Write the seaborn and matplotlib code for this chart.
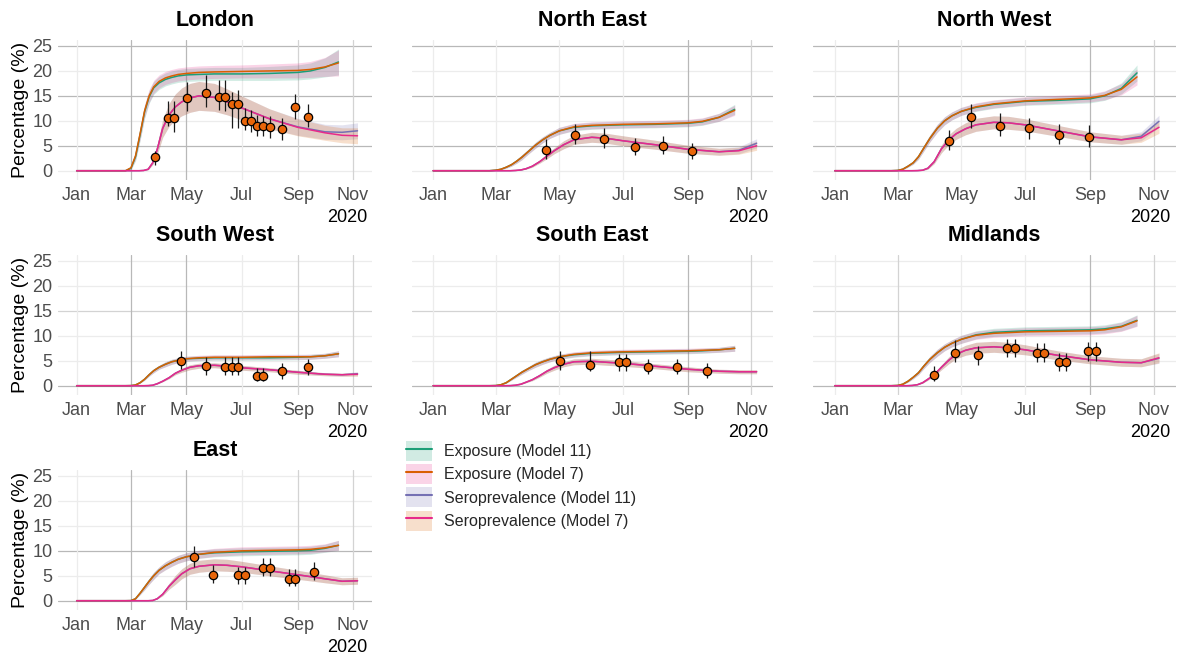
import matplotlib
matplotlib.use("Agg")
import matplotlib.pyplot as plt
from matplotlib.patches import Patch
from matplotlib.lines import Line2D
import pandas as pd
import seaborn as sns

# ---------------------------------------------------------------------------
# Data
# ---------------------------------------------------------------------------
REGIONS = ["London", "North East", "North West", "South West",
           "South East", "Midlands", "East"]

# Model curve dates (exposure curves stop mid-October, seroprevalence early November)
EXP_DATES = ["01-01", "02-24", "03-01", "03-06", "03-11", "03-16", "03-21",
             "03-26", "04-01", "04-08", "04-15", "04-22", "05-01", "05-15",
             "06-01", "07-01", "08-01", "09-01", "09-15", "10-01", "10-16"]
SERO_DATES = ["01-01", "03-10", "03-15", "03-20", "03-25", "03-30", "04-05",
              "04-12", "04-19", "04-26", "05-05", "05-15", "06-01", "06-15",
              "07-01", "08-01", "09-01", "10-01", "10-20", "11-06"]

# Cumulative exposure (%), Model 11 and Model 7
EXP_M11 = {
    "London":     [0, 0, 0.5, 2.8, 7.2, 11.8, 14.8, 16.6, 17.6, 18.3, 18.7, 19.0, 19.2, 19.3, 19.4, 19.4, 19.5, 19.7, 20.0, 20.7, 21.8],
    "North East": [0, 0, 0.1, 0.3, 0.7, 1.2, 1.9, 2.7, 3.8, 5.1, 6.2, 7.1, 8.0, 8.7, 9.0, 9.2, 9.3, 9.5, 9.8, 10.7, 12.3],
    "North West": [0, 0, 0.05, 0.3, 0.9, 1.6, 2.8, 4.5, 6.5, 8.5, 10.0, 11.0, 11.9, 12.7, 13.3, 13.9, 14.1, 14.4, 15.0, 16.5, 19.6],
    "South West": [0, 0, 0.02, 0.15, 0.6, 1.3, 2.2, 3.0, 3.7, 4.3, 4.8, 5.1, 5.4, 5.5, 5.6, 5.6, 5.6, 5.7, 5.8, 6.0, 6.4],
    "South East": [0, 0, 0.03, 0.2, 0.6, 1.3, 2.0, 2.7, 3.4, 4.2, 4.8, 5.3, 5.8, 6.2, 6.5, 6.7, 6.8, 6.9, 7.0, 7.2, 7.5],
    "Midlands":   [0, 0, 0.05, 0.3, 0.9, 1.7, 2.6, 3.9, 5.3, 6.6, 7.7, 8.5, 9.3, 10.2, 10.7, 11.0, 11.1, 11.2, 11.4, 11.9, 13.1],
    "East":       [0, 0, 0.02, 0.4, 1.5, 2.7, 3.9, 5.0, 6.1, 7.0, 7.7, 8.3, 8.8, 9.3, 9.6, 9.8, 9.9, 10.0, 10.1, 10.5, 11.1],
}
EXP_M7 = {
    "London":     [0, 0, 0.6, 3.0, 7.4, 12.0, 15.0, 16.8, 17.9, 18.6, 19.0, 19.3, 19.5, 19.7, 19.8, 19.9, 20.0, 20.1, 20.3, 20.8, 21.6],
    "North East": [0, 0, 0.1, 0.3, 0.7, 1.2, 1.9, 2.7, 3.8, 5.1, 6.2, 7.1, 8.0, 8.8, 9.1, 9.3, 9.4, 9.6, 9.9, 10.7, 12.1],
    "North West": [0, 0, 0.05, 0.3, 0.9, 1.6, 2.8, 4.5, 6.5, 8.5, 10.0, 11.0, 11.9, 12.8, 13.4, 14.0, 14.3, 14.6, 15.1, 16.3, 18.8],
    "South West": [0, 0, 0.02, 0.15, 0.6, 1.3, 2.2, 3.0, 3.7, 4.3, 4.8, 5.1, 5.4, 5.6, 5.7, 5.7, 5.8, 5.8, 5.8, 6.0, 6.4],
    "South East": [0, 0, 0.03, 0.2, 0.6, 1.3, 2.0, 2.7, 3.4, 4.2, 4.8, 5.3, 5.8, 6.3, 6.6, 6.8, 6.9, 7.0, 7.1, 7.2, 7.5],
    "Midlands":   [0, 0, 0.05, 0.3, 0.9, 1.7, 2.6, 3.9, 5.3, 6.6, 7.7, 8.5, 9.3, 10.1, 10.5, 10.8, 10.9, 11.0, 11.2, 11.8, 13.0],
    "East":       [0, 0, 0.02, 0.4, 1.5, 2.7, 3.9, 5.0, 6.1, 7.0, 7.7, 8.3, 8.8, 9.3, 9.7, 10.0, 10.1, 10.2, 10.3, 10.6, 11.1],
}
# Half-width of the exposure credible band
EXP_HW = {
    "London":     [0, 0, 0.3, 0.8, 1.2, 1.3, 1.3, 1.3, 1.3, 1.3, 1.3, 1.3, 1.3, 1.3, 1.3, 1.3, 1.4, 1.5, 1.6, 1.9, 2.6],
    "North East": [0, 0, 0.05, 0.1, 0.2, 0.3, 0.4, 0.5, 0.5, 0.6, 0.6, 0.6, 0.7, 0.7, 0.7, 0.7, 0.7, 0.7, 0.7, 0.8, 1.0],
    "North West": [0, 0, 0.05, 0.1, 0.2, 0.3, 0.5, 0.6, 0.7, 0.8, 0.8, 0.8, 0.8, 0.8, 0.8, 0.8, 0.8, 0.8, 0.9, 1.1, 1.6],
    "South West": [0, 0, 0, 0.05, 0.1, 0.2, 0.3, 0.4, 0.4, 0.5, 0.5, 0.5, 0.5, 0.5, 0.5, 0.5, 0.5, 0.5, 0.5, 0.5, 0.6],
    "South East": [0, 0, 0, 0.05, 0.1, 0.2, 0.3, 0.4, 0.4, 0.5, 0.5, 0.5, 0.5, 0.5, 0.5, 0.5, 0.5, 0.5, 0.5, 0.5, 0.6],
    "Midlands":   [0, 0, 0.05, 0.1, 0.2, 0.3, 0.4, 0.5, 0.6, 0.7, 0.7, 0.7, 0.8, 0.8, 0.8, 0.8, 0.8, 0.8, 0.8, 0.9, 1.1],
    "East":       [0, 0, 0, 0.1, 0.3, 0.5, 0.6, 0.7, 0.7, 0.8, 0.8, 0.8, 0.8, 0.8, 0.8, 0.8, 0.8, 0.8, 0.8, 0.8, 1.0],
}

# Seroprevalence (%), Model 11 and Model 7
SERO_M11 = {
    "London":     [0, 0, 0.05, 0.3, 1.6, 4.3, 8.5, 11.2, 12.8, 13.8, 14.6, 15.0, 14.7, 13.8, 12.6, 10.4, 8.8, 7.8, 7.7, 8.0],
    "North East": [0, 0, 0, 0.05, 0.15, 0.4, 0.9, 1.8, 2.9, 4.0, 5.2, 6.2, 6.7, 6.5, 6.0, 5.2, 4.3, 3.8, 4.1, 5.5],
    "North West": [0, 0, 0, 0.02, 0.1, 0.5, 1.8, 4.4, 6.2, 7.4, 8.4, 9.2, 9.7, 9.6, 9.2, 8.0, 6.8, 6.2, 6.9, 9.9],
    "South West": [0, 0, 0, 0.02, 0.1, 0.4, 0.9, 1.6, 2.5, 3.1, 3.7, 4.0, 4.1, 3.9, 3.6, 3.2, 2.7, 2.3, 2.2, 2.4],
    "South East": [0, 0, 0.02, 0.1, 0.3, 0.7, 1.2, 2.0, 2.9, 3.6, 4.3, 4.8, 4.9, 4.7, 4.5, 3.9, 3.3, 2.9, 2.8, 2.8],
    "Midlands":   [0, 0, 0.05, 0.2, 0.6, 1.3, 2.2, 3.7, 5.1, 6.3, 7.1, 7.6, 7.8, 7.6, 7.2, 6.1, 5.2, 4.7, 4.6, 5.5],
    "East":       [0, 0, 0, 0, 0.05, 0.4, 1.3, 2.9, 4.2, 5.4, 6.4, 6.9, 7.2, 7.1, 6.8, 6.0, 5.2, 4.4, 3.9, 4.0],
}
SERO_M7 = {
    "London":     [0, 0, 0.05, 0.3, 1.6, 4.3, 8.5, 11.2, 12.8, 13.8, 14.6, 15.0, 14.7, 13.8, 12.6, 10.4, 8.7, 7.6, 7.1, 7.0],
    "North East": [0, 0, 0, 0.05, 0.15, 0.4, 0.9, 1.8, 2.9, 4.0, 5.2, 6.2, 6.7, 6.5, 6.0, 5.2, 4.3, 3.8, 4.0, 5.0],
    "North West": [0, 0, 0, 0.02, 0.1, 0.5, 1.8, 4.4, 6.2, 7.4, 8.4, 9.2, 9.7, 9.6, 9.2, 8.0, 6.8, 6.2, 6.6, 8.7],
    "South West": [0, 0, 0, 0.02, 0.1, 0.4, 0.9, 1.6, 2.5, 3.1, 3.7, 4.0, 4.1, 3.9, 3.6, 3.2, 2.7, 2.3, 2.2, 2.3],
    "South East": [0, 0, 0.02, 0.1, 0.3, 0.7, 1.2, 2.0, 2.9, 3.6, 4.3, 4.8, 4.9, 4.7, 4.5, 3.9, 3.3, 2.9, 2.8, 2.8],
    "Midlands":   [0, 0, 0.05, 0.2, 0.6, 1.3, 2.2, 3.7, 5.1, 6.3, 7.1, 7.6, 7.8, 7.6, 7.2, 6.1, 5.2, 4.7, 4.6, 5.6],
    "East":       [0, 0, 0, 0, 0.05, 0.4, 1.3, 2.9, 4.2, 5.4, 6.4, 6.9, 7.2, 7.1, 6.8, 6.0, 5.2, 4.4, 3.9, 4.0],
}
# Half-width of the seroprevalence credible band
SERO_HW = {
    "London":     [0, 0, 0, 0.1, 0.4, 1.0, 1.8, 2.3, 2.6, 2.8, 2.9, 2.9, 2.8, 2.6, 2.4, 2.0, 1.7, 1.5, 1.5, 1.6],
    "North East": [0, 0, 0, 0, 0.05, 0.1, 0.2, 0.3, 0.5, 0.6, 0.8, 0.9, 1.0, 1.0, 1.0, 0.9, 0.8, 0.7, 0.7, 0.9],
    "North West": [0, 0, 0, 0, 0.05, 0.2, 0.4, 0.8, 1.0, 1.1, 1.2, 1.3, 1.3, 1.3, 1.2, 1.1, 1.0, 0.9, 0.9, 1.2],
    "South West": [0, 0, 0, 0, 0, 0.05, 0.1, 0.2, 0.3, 0.4, 0.5, 0.5, 0.5, 0.5, 0.5, 0.4, 0.4, 0.3, 0.3, 0.4],
    "South East": [0, 0, 0, 0, 0.05, 0.1, 0.2, 0.3, 0.4, 0.5, 0.5, 0.6, 0.6, 0.6, 0.6, 0.5, 0.5, 0.4, 0.4, 0.4],
    "Midlands":   [0, 0, 0, 0, 0.1, 0.2, 0.3, 0.5, 0.7, 0.9, 1.0, 1.1, 1.1, 1.1, 1.0, 0.9, 0.8, 0.8, 0.8, 1.0],
    "East":       [0, 0, 0, 0, 0, 0.05, 0.3, 0.6, 0.9, 1.0, 1.1, 1.2, 1.2, 1.2, 1.1, 1.0, 0.9, 0.8, 0.7, 0.7],
}

# Serosurvey observations: date, estimate and interval
OBS_DATE = {
    "London":     ["03-27", "04-11", "04-18", "05-02", "05-23", "06-06", "06-13", "06-20", "06-27",
                   "07-05", "07-11", "07-18", "07-25", "08-01", "08-15", "08-29", "09-12"],
    "North East": ["04-18", "05-16", "06-13", "07-12", "08-08", "09-05"],
    "North West": ["04-19", "05-10", "06-07", "07-05", "08-02", "08-31"],
    "South West": ["04-25", "05-23", "06-13", "06-20", "06-27", "07-18", "07-25", "08-15", "09-12"],
    "South East": ["05-02", "05-30", "06-27", "07-04", "07-25", "08-22", "09-19"],
    "Midlands":   ["04-05", "04-25", "05-17", "06-14", "06-21", "07-12", "07-19", "08-02", "08-09", "08-30", "09-07"],
    "East":       ["05-10", "05-30", "06-27", "07-05", "07-25", "08-01", "08-22", "08-29", "09-19"],
}
OBS_VAL = {
    "London":     [2.7, 10.5, 10.5, 14.5, 15.6, 14.8, 14.8, 13.3, 13.3, 10.0, 10.0, 9.0, 9.0, 8.8, 8.3, 12.7, 10.8],
    "North East": [4.15, 7.15, 6.35, 4.8, 5.0, 3.95],
    "North West": [6.0, 10.8, 9.0, 8.5, 7.2, 6.8],
    "South West": [5.0, 4.0, 3.7, 3.7, 3.7, 1.9, 1.9, 3.0, 3.7],
    "South East": [5.0, 4.2, 4.7, 4.7, 3.7, 3.7, 2.9],
    "Midlands":   [2.1, 6.5, 6.1, 7.5, 7.5, 6.5, 6.5, 4.7, 4.7, 6.9, 6.9],
    "East":       [8.85, 5.2, 5.1, 5.1, 6.5, 6.5, 4.4, 4.4, 5.7],
}
OBS_LO = {
    "London":     [1.1, 9.0, 7.8, 12.0, 12.7, 12.2, 12.0, 8.5, 8.5, 8.2, 7.8, 7.0, 7.0, 6.6, 6.2, 10.3, 8.7],
    "North East": [2.3, 5.35, 4.6, 3.15, 3.35, 2.35],
    "North West": [4.15, 8.6, 7.0, 6.35, 5.35, 4.8],
    "South West": [3.3, 2.2, 2.1, 2.1, 2.1, 0.9, 0.9, 1.3, 2.1],
    "South East": [3.2, 3.0, 3.0, 3.0, 2.3, 2.3, 1.5],
    "Midlands":   [1.0, 4.7, 4.2, 5.7, 5.7, 4.7, 4.7, 3.0, 3.0, 4.9, 4.9],
    "East":       [6.8, 3.5, 3.4, 3.4, 4.9, 4.9, 3.0, 3.0, 4.1],
}
OBS_HI = {
    "London":     [4.0, 14.0, 14.0, 17.8, 19.2, 18.2, 18.2, 15.8, 16.2, 12.5, 12.2, 11.2, 11.0, 11.0, 10.5, 15.3, 13.4],
    "North East": [6.3, 9.4, 8.5, 6.6, 7.0, 5.6],
    "North West": [8.15, 13.4, 11.5, 10.6, 9.4, 9.15],
    "South West": [7.0, 5.85, 5.7, 5.7, 5.7, 3.5, 3.5, 4.5, 5.3],
    "South East": [7.0, 7.0, 6.3, 6.3, 5.3, 5.3, 4.5],
    "Midlands":   [4.0, 9.1, 8.0, 9.3, 9.3, 8.5, 8.5, 6.5, 6.5, 8.8, 8.8],
    "East":       [11.0, 7.2, 6.7, 6.7, 8.5, 8.5, 6.3, 6.3, 7.7],
}

SERIES = ["Exposure (Model 11)", "Exposure (Model 7)",
          "Seroprevalence (Model 11)", "Seroprevalence (Model 7)"]
LINE_COLORS = ["#1B9E77", "#D95F02", "#7570B3", "#E7298A"]
FILL_COLORS = ["#1B9E77", "#E7298A", "#7570B3", "#D95F02"]

MONTH_TICKS = ["01-01", "03-01", "05-01", "07-01", "09-01", "11-01"]
MONTH_LABELS = ["Jan", "Mar", "May", "Jul", "Sep", "Nov"]
Y_TICKS = [0, 5, 10, 15, 20, 25]

# ---------------------------------------------------------------------------
# Style
# ---------------------------------------------------------------------------
sns.set_theme(style="white")
plt.rcParams["font.family"] = ["Liberation Sans", "DejaVu Sans"]

W, H = 1180, 660
fig = plt.figure(figsize=(W / 100, H / 100), dpi=100)
fig.patch.set_facecolor("white")

COL_X = [(58, 372), (411.7, 773.3), (813.3, 1175.7)]
ROW_Y = [(40, 180), (255, 395), (470, 610)]

GRID_SHADE = {"l": "#ececec", "m": "#d3d3d3", "d": "#b8b8b8"}
# rendering weight of each gridline, per panel row (y) and column (x)
Y_GRID = [["l", "d", "l", "d", "l", "d"],
          ["d", "l", "l", "m", "l", "l"],
          ["d", "l", "d", "l", "l", "l"]]
X_GRID = [["l", "d", "d", "l", "m", "m"],
          ["l", "l", "l", "l", "d", "m"],
          ["l", "m", "l", "l", "d", "m"]]


def to_dates(md):
    return pd.to_datetime(["2020-" + d for d in md])


exp_x = to_dates(EXP_DATES)
sero_x = to_dates(SERO_DATES)
tick_x = to_dates(MONTH_TICKS)
x_lo = pd.Timestamp("2019-12-11 10:00")
x_hi = pd.Timestamp("2020-11-22")

for i, region in enumerate(REGIONS):
    row, col = divmod(i, 3)
    x0, x1 = COL_X[col]
    y0, y1 = ROW_Y[row]
    ax = fig.add_axes([x0 / W, 1 - y1 / H, (x1 - x0) / W, (y1 - y0) / H])
    ax.set_facecolor("white")
    for s in ax.spines.values():
        s.set_visible(False)

    # gridlines
    for yv, lvl in zip(Y_TICKS, Y_GRID[row]):
        ax.axhline(yv, color=GRID_SHADE[lvl], lw=0.9, zorder=0)
    for xv, lvl in zip(tick_x, X_GRID[col]):
        ax.axvline(xv, color=GRID_SHADE[lvl], lw=0.9, zorder=0)

    curves = [
        (exp_x, EXP_M11[region], EXP_HW[region]),
        (exp_x, EXP_M7[region], EXP_HW[region]),
        (sero_x, SERO_M11[region], SERO_HW[region]),
        (sero_x, SERO_M7[region], SERO_HW[region]),
    ]
    # credible bands
    for (xs, ys, hw), fc in zip(curves, FILL_COLORS):
        lo = [v - h for v, h in zip(ys, hw)]
        hi = [v + h for v, h in zip(ys, hw)]
        ax.fill_between(xs, lo, hi, color=fc, alpha=0.2, lw=0, zorder=1)
    # median curves
    for (xs, ys, _), lc in zip(curves, LINE_COLORS):
        sns.lineplot(x=xs, y=ys, ax=ax, color=lc, lw=1.1, legend=False,
                     zorder=2, estimator=None)

    # observations
    od = to_dates(OBS_DATE[region])
    ax.vlines(od, OBS_LO[region], OBS_HI[region], color="#1a1a1a", lw=0.9, zorder=3)
    sns.scatterplot(x=od, y=OBS_VAL[region], ax=ax, color="#E8650A",
                    edgecolor="black", linewidth=0.9, s=36, zorder=4, legend=False)

    ax.set_xlim(x_lo, x_hi)
    ax.set_ylim(-1.86, 26.2)
    ax.set_xticks(tick_x)
    ax.set_xticklabels(MONTH_LABELS)
    ax.set_yticks(Y_TICKS)
    ax.grid(False)
    ax.tick_params(axis="both", length=0, labelsize=13, colors="#4d4d4d")
    ax.tick_params(axis="x", pad=5)
    ax.tick_params(axis="y", pad=4)
    if col == 0:
        ax.set_ylabel("Percentage (%)", fontsize=14, color="black")
        ax.yaxis.set_label_coords(-0.092, 0.5)
    else:
        ax.set_ylabel("")
        ax.tick_params(axis="y", labelleft=False)
    ax.set_xlabel("2020", fontsize=13, color="black", loc="right")
    ax.xaxis.set_label_coords((x1 - 5 - x0) / (x1 - x0), -0.21)
    ax.xaxis.label.set_va("top")

    fig.text(((x0 + x1) / 2) / W, 1 - (y0 - 19.5) / H, region,
             ha="center", va="center", fontsize=15.5, fontweight="bold",
             color="black")

handles = [(Patch(facecolor=fc, alpha=0.2, edgecolor="none"),
            Line2D([], [], color=lc, lw=1.5))
           for fc, lc in zip(FILL_COLORS, LINE_COLORS)]
fig.legend(handles, SERIES, loc="upper left",
           bbox_to_anchor=(406 / W, 1 - 441 / H), frameon=False,
           fontsize=11.5, handlelength=1.6, handleheight=1.55,
           labelspacing=0.2, handletextpad=0.75, borderpad=0,
           borderaxespad=0)

fig.savefig("out.png", dpi=100, facecolor="white")
